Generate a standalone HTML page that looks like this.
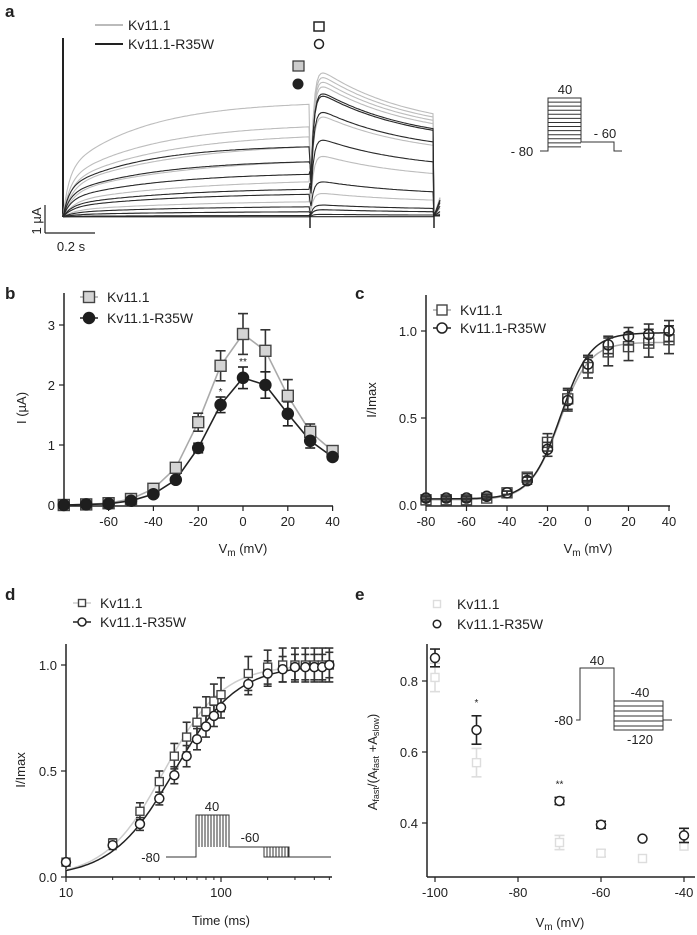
<!DOCTYPE html>
<html><head><meta charset="utf-8"><style>
body{margin:0;background:#fff;}
svg{display:block;font-family:"Liberation Sans",sans-serif;}
text{fill:#222;}
.lbl{font-weight:bold;font-size:17px;}
.tk{font-size:13px;}
.lg{font-size:14px;}
</style></head><body>
<svg id="fig" width="697" height="935" viewBox="0 0 697 935" xmlns="http://www.w3.org/2000/svg">
<text class="lbl" x="5" y="17">a</text>
<text class="lbl" x="5" y="299">b</text>
<text class="lbl" x="355" y="299">c</text>
<text class="lbl" x="5" y="600">d</text>
<text class="lbl" x="355" y="600">e</text>

<g id="pa">
<line x1="95" y1="25" x2="123" y2="25" stroke="#bbb" stroke-width="2"/>
<text x="128" y="30" class="lg">Kv11.1</text>
<line x1="95" y1="44" x2="123" y2="44" stroke="#222" stroke-width="2"/>
<text x="128" y="49" class="lg">Kv11.1-R35W</text>
<rect x="314" y="22" width="10" height="9" fill="#fff" stroke="#222" stroke-width="1.5"/>
<circle cx="319" cy="44" r="4.5" fill="#fff" stroke="#222" stroke-width="1.5"/>
<rect x="293" y="61" width="11" height="10" fill="#ccc" stroke="#333" stroke-width="1.2"/>
<circle cx="298" cy="84" r="5.5" fill="#222"/>
<line x1="63" y1="38" x2="63" y2="217" stroke="#222" stroke-width="2"/>
<line x1="45" y1="205" x2="45" y2="233" stroke="#222" stroke-width="1.2"/>
<line x1="45" y1="233" x2="95" y2="233" stroke="#222" stroke-width="1.2"/>
<text x="0" y="0" class="tk" transform="translate(41,221) rotate(-90)" text-anchor="middle">1 µA</text>
<text x="71" y="251" class="tk" text-anchor="middle">0.2 s</text>
<g fill="none" stroke="#333" stroke-width="1">
<polyline points="540,151 548,151 548,98 581,98 581,142 614,142 614,151 622,151"/>
<g id="hatchA"></g>
</g>
<text x="565" y="94" class="tk" text-anchor="middle">40</text>
<text x="605" y="138" class="tk" text-anchor="middle">- 60</text>
<text x="522" y="156" class="tk" text-anchor="middle">- 80</text>
<g id="traces"></g>
</g>

<g id="pb"></g>
<g id="pc"></g>
<g id="pd"></g>
<g id="pe"></g>
</svg>
<script>
// ---- panel a data (µA) ----
const aWtStep=[4.5,3.6,3.2,2.8,2.2,1.4,0.6,0.2,0.05];
const aWtTail=[6.2,6.0,5.8,5.6,5.2,4.3,2.6,1.0,0.3];
const aMutStep=[2.8,2.2,1.7,1.1,0.9,0.4,0.2,0.05,0.0];
const aMutTail=[5.3,5.2,4.5,3.3,1.5,0.5,0.3,0.1,0.0];
// ---- panel b ----
const bV=[-80,-70,-60,-50,-40,-30,-20,-10,0,10,20,30,40];
const bWt=[0,0.01,0.03,0.1,0.27,0.62,1.38,2.32,2.85,2.57,1.82,1.22,0.9];
const bWtErr=[0,0,0.01,0.02,0.04,0.06,0.15,0.25,0.34,0.35,0.27,0.13,0.06];
const bMut=[0,0.01,0.02,0.07,0.18,0.42,0.95,1.67,2.12,2.0,1.52,1.07,0.8];
const bMutErr=[0,0,0.01,0.02,0.03,0.05,0.08,0.13,0.18,0.22,0.2,0.12,0.05];
const bTicksX=[-60,-40,-20,0,20,40];
const bTicksY=[0,1,2,3];
// ---- panel c ----
const cV=[-80,-70,-60,-50,-40,-30,-20,-10,0,10,20,30,40];
const cWt=[0.03,0.03,0.03,0.04,0.07,0.16,0.36,0.61,0.79,0.88,0.91,0.93,0.95];
const cWtErr=[0.01,0.01,0.01,0.01,0.01,0.02,0.05,0.06,0.06,0.08,0.08,0.08,0.08];
const cMut=[0.04,0.04,0.04,0.05,0.07,0.14,0.32,0.6,0.81,0.92,0.97,0.98,1.0];
const cMutErr=[0.01,0.01,0.01,0.01,0.01,0.02,0.04,0.06,0.05,0.05,0.05,0.06,0.06];
const cTicksX=[-80,-60,-40,-20,0,20,40];
const cTicksY=[0,0.5,1.0];
// ---- panel d ----
const dT=[10,20,30,40,50,60,70,80,90,100,150,200,250,300,350,400,450,500];
const dWt=[0.07,0.16,0.31,0.45,0.57,0.66,0.73,0.78,0.83,0.86,0.96,0.99,1.0,1.0,1.0,1.0,1.0,1.0];
const dWtErr=[0.01,0.02,0.04,0.05,0.06,0.07,0.07,0.07,0.08,0.08,0.08,0.08,0.08,0.08,0.08,0.08,0.08,0.08];
const dMut=[0.07,0.15,0.25,0.37,0.48,0.57,0.65,0.71,0.76,0.80,0.91,0.96,0.98,0.99,0.99,0.99,0.99,1.0];
const dMutErr=[0.01,0.02,0.03,0.03,0.04,0.05,0.05,0.05,0.05,0.05,0.05,0.06,0.06,0.06,0.06,0.06,0.06,0.06];
const dTicksX=[10,100];
const dTicksY=[0,0.5,1.0];
// ---- panel e ----
const eV=[-100,-90,-70,-60,-50,-40];
const eWt=[0.81,0.57,0.345,0.315,0.30,0.335];
const eWtErr=[0.04,0.04,0.02,0.01,0.005,0.005];
const eMut=[0.865,0.662,0.462,0.395,0.356,0.365];
const eMutErr=[0.025,0.04,0.01,0.01,0.005,0.02];
const eTicksX=[-100,-80,-60,-40];
const eTicksY=[0.4,0.6,0.8];

const NS='http://www.w3.org/2000/svg';
function mk(parent,tag,attrs,text){const e=document.createElementNS(NS,tag);for(const k in attrs)e.setAttribute(k,attrs[k]);if(text!==undefined)e.textContent=text;parent.appendChild(e);return e;}

(function(){const g=document.getElementById('hatchA');for(let i=1;i<13;i++){const y=98+i*(53/13);const l=mk(g,'line',{x1:548,x2:581,y1:y,y2:y});

}})();

(function(){
const g=document.getElementById('traces');
const base=216,sc=25,x0=63,x1=310,x2=434;
function shape(t,i){return 0.4*(1-Math.exp(-t/(6+i)))+0.6*(1-Math.exp(-t/(80+i*10)));}
function trace(step,tail,col,i){
 let pts=[];
 const norm=shape(x1-x0,i);
 for(let x=x0;x<=x1;x+=2){const t=x-x0;const v=step*shape(t,i)/norm;pts.push([x,base-v*sc+((x/2)%2?0.8:-0.8)]);}
 pts.push([x1,base-tail*sc*0.4]);
 for(let x=x1+1;x<=x2;x+=2){const t=x-x1;const rise=1-Math.exp(-t/3);const v=tail*rise*(0.55+0.45*Math.exp(-t/90));pts.push([x,base-v*sc+((x/2)%2?0.7:-0.7)]);}
 pts.push([x2,base]);pts.push([440,base-tail*0.12*sc]);
 const p=mk(g,'polyline',{points:pts.map(q=>q[0].toFixed(1)+','+q[1].toFixed(1)).join(' '),fill:'none',stroke:col,'stroke-width':1.1});
 
 
}
aWtStep.forEach((s,i)=>trace(s,aWtTail[i],'#bdbdbd',i));
aMutStep.forEach((s,i)=>trace(s,aMutTail[i],'#2a2a2a',i));
mk(g,'line',{x1:x1,y1:base-2,x2:x1,y2:228,stroke:'#222','stroke-width':1.5});
mk(g,'line',{x1:x2,y1:base-2,x2:x2,y2:228,stroke:'#222','stroke-width':1.5});
})();

function axes(g,o){
 const yl=mk(g,'line',{x1:o.ax,y1:o.ay0,x2:o.ax,y2:o.ay1,stroke:'#222','stroke-width':1.5});
 
 
 const xl=mk(g,'line',{x1:o.ax,y1:o.ay1,x2:o.ax1,y2:o.ay1,stroke:'#222','stroke-width':1.5});
 
 
 o.xTicks.forEach(v=>{const x=o.xs(v);mk(g,'line',{x1:x,x2:x,y1:o.ay1,y2:o.ay1+5,stroke:'#222','stroke-width':1.2});
  const t=mk(g,'text',{x:x,y:o.ay1+20,'text-anchor':'middle',class:'tk'},o.fmtX(v));
  
  });
 o.yTicks.forEach(v=>{const y=o.ys(v);mk(g,'line',{x1:o.ax-5,x2:o.ax,y1:y,y2:y,stroke:'#222','stroke-width':1.2});
  const t=mk(g,'text',{x:o.ax-9,y:y+5,'text-anchor':'end',class:'tk'},o.fmtY(v));
  
  });
}
function errbar(g,x,y1,y2,col,w){mk(g,'line',{x1:x,x2:x,y1:y1,y2:y2,stroke:col,'stroke-width':1.6});mk(g,'line',{x1:x-w,x2:x+w,y1:y1,y2:y1,stroke:col,'stroke-width':1.6});mk(g,'line',{x1:x-w,x2:x+w,y1:y2,y2:y2,stroke:col,'stroke-width':1.6});}
function sq(g,x,y,s,fill,stroke,name){const r=mk(g,'rect',{x:x-s/2,y:y-s/2,width:s,height:s,fill:fill,stroke:stroke,'stroke-width':1.4});
 
 }
function circ(g,x,y,r,fill,stroke,name){const c=mk(g,'circle',{cx:x,cy:y,r:r,fill:fill,stroke:stroke,'stroke-width':1.5});
 
 }
function vm(g,x,y,lbl){const t=mk(g,'text',{x:x,y:y,'text-anchor':'middle',class:'tk'});t.innerHTML='V<tspan font-size="10" dy="3">m</tspan><tspan dy="-3"> (mV)</tspan>';
 
 }
function ylab(g,x,y,txt,lbl){const t=mk(g,'text',{transform:`translate(${x},${y}) rotate(-90)`,'text-anchor':'middle',class:'tk'},txt);
 
 return t;}

(function(){const g=document.getElementById('pb');
const xs=v=>243+v*2.24, ys=v=>505-v*60;
axes(g,{xs,ys,xTicks:bTicksX,yTicks:bTicksY,ax:64,ay0:293,ay1:506,ax1:333,fmtX:v=>String(v),fmtY:v=>String(v)});
mk(g,'polyline',{points:bV.map((v,i)=>xs(v)+','+ys(bWt[i])).join(' '),fill:'none',stroke:'#aaa','stroke-width':1.6});
mk(g,'polyline',{points:bV.map((v,i)=>xs(v)+','+ys(bMut[i])).join(' '),fill:'none',stroke:'#222','stroke-width':1.6});
bV.forEach((v,i)=>{if(bWtErr[i]>0.03)errbar(g,xs(v),ys(bWt[i]+bWtErr[i]),ys(bWt[i]-bWtErr[i]),'#333',5);});
bV.forEach((v,i)=>{if(bMutErr[i]>0.03)errbar(g,xs(v),ys(bMut[i]+bMutErr[i]),ys(bMut[i]-bMutErr[i]),'#222',5);});
bV.forEach((v,i)=>sq(g,xs(v),ys(bWt[i]),11,'#d4d4d4','#444','point-b-wt'));
bV.forEach((v,i)=>circ(g,xs(v),ys(bMut[i]),5.5,'#1e1e1e','#1e1e1e','point-b-mut'));
mk(g,'text',{x:xs(-10),y:ys(1.83),'text-anchor':'middle','font-size':'10'},'*');
mk(g,'text',{x:xs(0),y:ys(2.33),'text-anchor':'middle','font-size':'10'},'**');
mk(g,'line',{x1:80,x2:98,y1:297,y2:297,stroke:'#aaa','stroke-width':1.5});sq(g,89,297,11,'#d4d4d4','#444','legend-b-wt-marker');
mk(g,'text',{x:107,y:302,class:'lg'},'Kv11.1');
mk(g,'line',{x1:80,x2:98,y1:318,y2:318,stroke:'#222','stroke-width':1.5});circ(g,89,318,5.5,'#1e1e1e','#1e1e1e','legend-b-mut-marker');
mk(g,'text',{x:107,y:323,class:'lg'},'Kv11.1-R35W');
ylab(g,26,408,'I (µA)','y-axis-title-b');
vm(g,243,553,'x-axis-title-b');
})();

(function(){const g=document.getElementById('pc');
const xs=v=>588+v*2.025, ys=v=>505-v*174;
axes(g,{xs,ys,xTicks:cTicksX,yTicks:cTicksY,ax:426,ay0:295,ay1:506,ax1:670,fmtX:v=>String(v),fmtY:v=>v.toFixed(1)});
function boltz(min,max,vh,k,col){let p=[];for(let v=-80;v<=40;v+=1)p.push(xs(v)+','+ys(min+(max-min)/(1+Math.exp((vh-v)/k))));mk(g,'polyline',{points:p.join(' '),fill:'none',stroke:col,'stroke-width':1.5});}
boltz(0.03,0.935,-14,7.3,'#aaa');boltz(0.035,0.99,-13.5,7.3,'#222');
cV.forEach((v,i)=>errbar(g,xs(v),ys(cWt[i]+cWtErr[i]),ys(cWt[i]-cWtErr[i]),'#333',5));
cV.forEach((v,i)=>errbar(g,xs(v),ys(cMut[i]+cMutErr[i]),ys(cMut[i]-cMutErr[i]),'#333',5));
cV.forEach((v,i)=>sq(g,xs(v),ys(cWt[i]),10,'none','#444','point-c-wt'));
cV.forEach((v,i)=>circ(g,xs(v),ys(cMut[i]),5,'none','#222','point-c-mut'));
mk(g,'line',{x1:433,x2:451,y1:310,y2:310,stroke:'#aaa','stroke-width':1.5});sq(g,442,310,10,'#fff','#444','legend-c-wt-marker');
mk(g,'text',{x:460,y:315,class:'lg'},'Kv11.1');
mk(g,'line',{x1:433,x2:451,y1:328,y2:328,stroke:'#222','stroke-width':1.5});circ(g,442,328,5,'#fff','#222','legend-c-mut-marker');
mk(g,'text',{x:460,y:333,class:'lg'},'Kv11.1-R35W');
ylab(g,376,400,'I/Imax','y-axis-title-c');
vm(g,588,553,'x-axis-title-c');
})();

(function(){const g=document.getElementById('pd');
const xs=t=>66+Math.log10(t/10)*155, ys=v=>877-v*212;
axes(g,{xs,ys,xTicks:dTicksX,yTicks:dTicksY,ax:66,ay0:644,ay1:877,ax1:332,fmtX:v=>String(v),fmtY:v=>v.toFixed(1)});
[20,30,40,50,60,70,80,90,200,300,400,500].forEach(t=>mk(g,'line',{x1:xs(t),x2:xs(t),y1:877,y2:880,stroke:'#222','stroke-width':1}));
function hill(t50,n,col){let p=[];for(let t=10;t<=500;t*=1.03)p.push(xs(t).toFixed(1)+','+ys(1/(1+Math.pow(t50/t,n))).toFixed(1));mk(g,'polyline',{points:p.join(' '),fill:'none',stroke:col,'stroke-width':1.5});}
hill(43,2.3,'#ccc');hill(50,2.15,'#222');
const pg=mk(g,'g',{fill:'none',stroke:'#333','stroke-width':1});


mk(pg,'polyline',{points:'166,857 196,857 196,815 229,815 229,847 264,847 264,857 331,857'});
mk(pg,'polyline',{points:'264,847 289,847 289,857'});
for(let x=199;x<229;x+=3)mk(pg,'line',{x1:x,x2:x,y1:815,y2:847});
for(let x=267;x<289;x+=3)mk(pg,'line',{x1:x,x2:x,y1:847,y2:857});
mk(g,'text',{x:212,y:811,'text-anchor':'middle',class:'tk'},'40');
mk(g,'text',{x:250,y:842,'text-anchor':'middle',class:'tk'},'-60');
mk(g,'text',{x:160,y:862,'text-anchor':'end',class:'tk'},'-80');
dT.forEach((t,i)=>errbar(g,xs(t),ys(dWt[i]+dWtErr[i]),ys(dWt[i]-dWtErr[i]),'#333',4));
dT.forEach((t,i)=>errbar(g,xs(t),ys(dMut[i]+dMutErr[i]),ys(dMut[i]-dMutErr[i]),'#333',4));
dT.forEach((t,i)=>sq(g,xs(t),ys(dWt[i]),8,'#fff','#444','point-d-wt'));
dT.forEach((t,i)=>circ(g,xs(t),ys(dMut[i]),4.5,'#fff','#222','point-d-mut'));
mk(g,'line',{x1:73,x2:91,y1:603,y2:603,stroke:'#ccc','stroke-width':1.5});sq(g,82,603,7,'#fff','#444','legend-d-wt-marker');
mk(g,'text',{x:100,y:608,class:'lg'},'Kv11.1');
mk(g,'line',{x1:73,x2:91,y1:622,y2:622,stroke:'#222','stroke-width':1.5});circ(g,82,622,4,'#fff','#222','legend-d-mut-marker');
mk(g,'text',{x:100,y:627,class:'lg'},'Kv11.1-R35W');
ylab(g,25,770,'I/Imax','y-axis-title-d');
const t=mk(g,'text',{x:221,y:925,'text-anchor':'middle',class:'tk'},'Time (ms)');


})();

(function(){const g=document.getElementById('pe');
const xs=v=>435+(v+100)*4.15, ys=v=>823-(v-0.4)*355;
axes(g,{xs,ys,xTicks:eTicksX,yTicks:eTicksY,ax:427,ay0:644,ay1:877,ax1:695,fmtX:v=>String(v),fmtY:v=>v.toFixed(1)});
const pg=mk(g,'g',{fill:'none',stroke:'#333','stroke-width':1});


mk(pg,'polyline',{points:'576,720 580,720 580,668 614,668 614,730 663,730 663,701 614,701'});
for(let y=706;y<730;y+=5)mk(pg,'line',{x1:614,x2:663,y1:y,y2:y});
mk(pg,'line',{x1:663,x2:672,y1:720,y2:720});
mk(g,'text',{x:597,y:665,'text-anchor':'middle',class:'tk'},'40');
mk(g,'text',{x:640,y:697,'text-anchor':'middle',class:'tk'},'-40');
mk(g,'text',{x:640,y:744,'text-anchor':'middle',class:'tk'},'-120');
mk(g,'text',{x:573,y:725,'text-anchor':'end',class:'tk'},'-80');
eV.forEach((v,i)=>{if(eWtErr[i]>0.006)errbar(g,xs(v),ys(eWt[i]+eWtErr[i]),ys(eWt[i]-eWtErr[i]),'#ddd',5);});
eV.forEach((v,i)=>sq(g,xs(v),ys(eWt[i]),8,'#fff','#ddd','point-e-wt'));
eV.forEach((v,i)=>{if(eMutErr[i]>0.006)errbar(g,xs(v),ys(eMut[i]+eMutErr[i]),ys(eMut[i]-eMutErr[i]),'#222',5);});
eV.forEach((v,i)=>circ(g,xs(v),ys(eMut[i]),4.5,'#fff','#222','point-e-mut'));
mk(g,'text',{x:xs(-90),y:ys(0.73),'text-anchor':'middle','font-size':'10'},'*');
mk(g,'text',{x:xs(-70),y:ys(0.5),'text-anchor':'middle','font-size':'10'},'**');
sq(g,437,604,7,'#fff','#ddd','legend-e-wt-marker');
mk(g,'text',{x:457,y:609,class:'lg'},'Kv11.1');
circ(g,437,624,3.8,'#fff','#222','legend-e-mut-marker');
mk(g,'text',{x:457,y:629,class:'lg'},'Kv11.1-R35W');
const yt=mk(g,'text',{transform:'translate(377,762) rotate(-90)','text-anchor':'middle',class:'tk'});
yt.innerHTML='A<tspan font-size="9" dy="2">fast</tspan><tspan dy="-2">/(A</tspan><tspan font-size="9" dy="2">fast</tspan><tspan dy="-2"> +A</tspan><tspan font-size="9" dy="2">slow</tspan><tspan dy="-2">)</tspan>';


vm(g,560,927,'x-axis-title-e');
})();
</script>
</body></html>
